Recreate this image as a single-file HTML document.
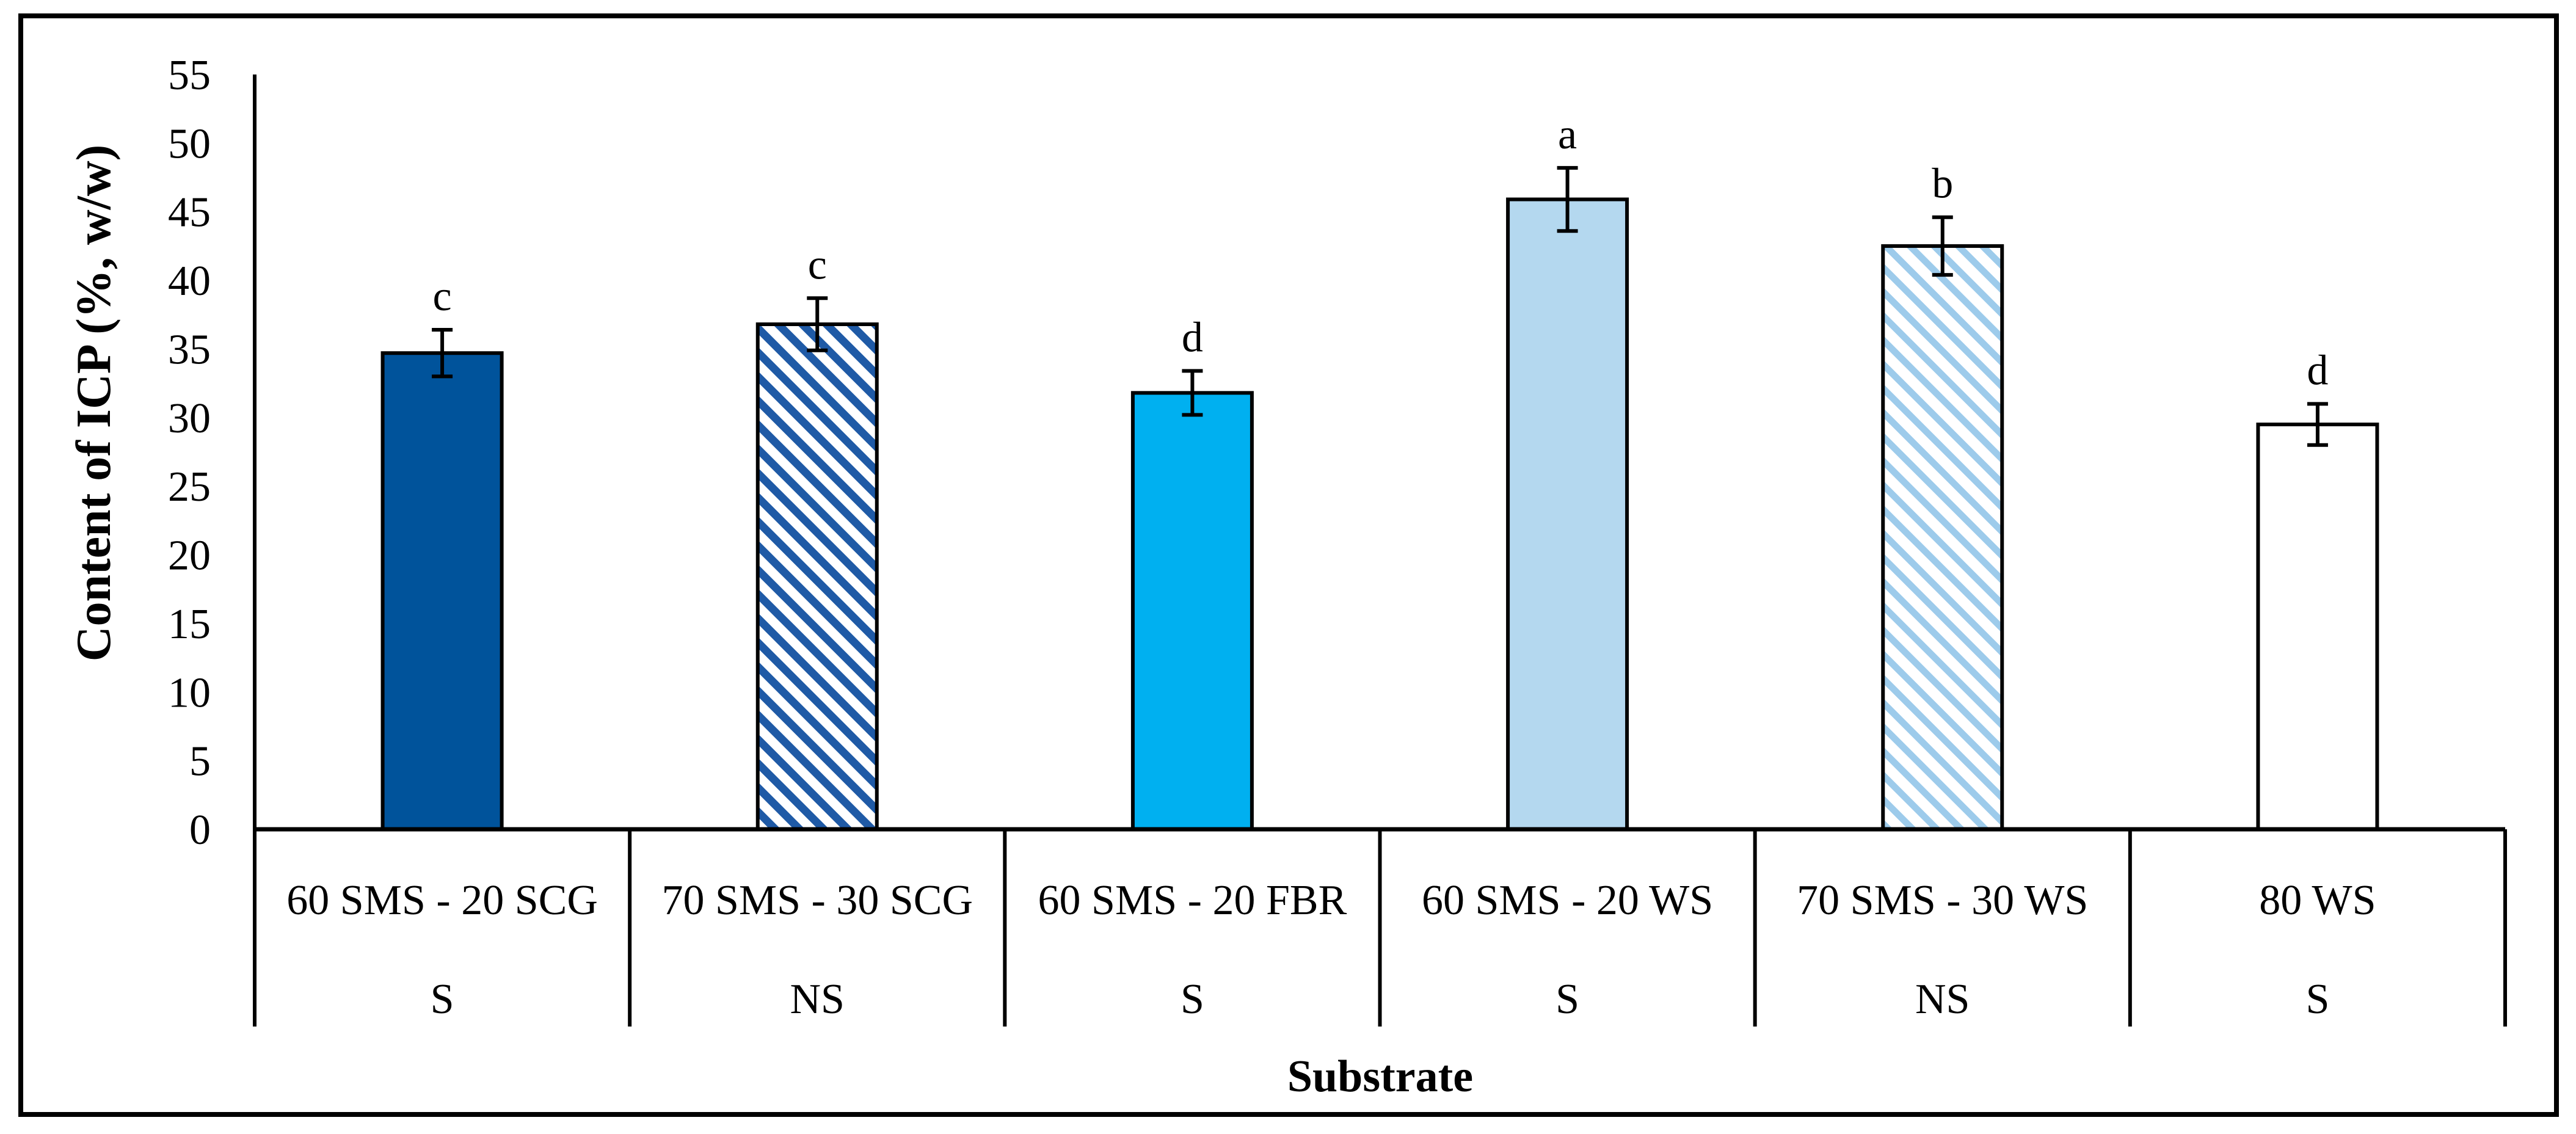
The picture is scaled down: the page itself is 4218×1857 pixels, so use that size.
<!DOCTYPE html>
<html><head><meta charset="utf-8"><style>
html,body{margin:0;padding:0;background:#fff;}
svg{display:block;font-family:"Liberation Serif",serif;}
</style></head><body>
<svg id="chart" width="4218" height="1857" viewBox="0 0 4218 1857" xmlns="http://www.w3.org/2000/svg">
<defs>
<pattern id="hatchDark" patternUnits="userSpaceOnUse" width="28" height="28" patternTransform="rotate(45)">
<rect width="28" height="28" fill="#fff"/><rect width="28" height="13" fill="#1f5aa6"/>
</pattern>
<pattern id="hatchLight" patternUnits="userSpaceOnUse" width="28" height="28" patternTransform="rotate(45)">
<rect width="28" height="28" fill="#fff"/><rect width="28" height="11" fill="#9dcbeb"/>
</pattern>
</defs>
<rect x="34" y="26" width="4152" height="1799" fill="none" stroke="#000" stroke-width="8"/>
<g id="plot"></g>
<text transform="translate(180,660) rotate(-90)" text-anchor="middle" font-size="80" font-weight="bold">Content of  ICP  (%, w/w)</text>
<text x="2260" y="1787" text-anchor="middle" font-size="74" font-weight="bold">Substrate</text>
</svg>
<script>
const categories = ["60 SMS - 20 SCG","70 SMS - 30 SCG","60 SMS - 20 FBR","60 SMS - 20 WS","70 SMS - 30 WS","80 WS"];
const groups = ["S","NS","S","S","NS","S"];
const values = [34.7, 36.8, 31.8, 45.9, 42.5, 29.5];
const errors = [1.7, 1.9, 1.6, 2.3, 2.1, 1.5];
const letters = ["c","c","d","a","b","d"];
const yTicks = [0,5,10,15,20,25,30,35,40,45,50,55];
const fills = ["#00539b","url(#hatchDark)","#00b0f0","#b4d8ef","url(#hatchLight)","#ffffff"];

const NS="http://www.w3.org/2000/svg";
const g=document.getElementById('plot');
const x0=417, x1=4102, y0=1358, yMax=55, yTop=122;
const catW=(x1-x0)/categories.length;
const barW=195;
function yScale(v){return y0-(v/yMax)*(y0-yTop);}
function xCenter(i){return x0+catW*(i+0.5);}
function mk(tag,attrs){const e=document.createElementNS(NS,tag);for(const k in attrs)e.setAttribute(k,attrs[k]);g.appendChild(e);return e;}

yTicks.forEach(t=>{
  const e=mk('text',{x:345,y:yScale(t)+24,'text-anchor':'end','font-size':70});
  e.textContent=t;
  
  
});
values.forEach((v,i)=>{
  const cx=xCenter(i);
  const r=mk('rect',{x:cx-barW/2,y:yScale(v),width:barW,height:y0-yScale(v),fill:fills[i],stroke:'#000','stroke-width':6});
  
  
  const eT=yScale(v+errors[i]), eB=yScale(v-errors[i]);
  const p=mk('path',{d:`M${cx},${eT}V${eB}M${cx-17},${eT}H${cx+17}M${cx-17},${eB}H${cx+17}`,stroke:'#000','stroke-width':6,fill:'none'});
  
  
  const l=mk('text',{x:cx,y:eT-32,'text-anchor':'middle','font-size':70});
  l.textContent=letters[i];
  
  
  const c=mk('text',{x:cx,y:1497,'text-anchor':'middle','font-size':70});
  c.textContent=categories[i];
  
  
  const s=mk('text',{x:cx,y:1659,'text-anchor':'middle','font-size':70});
  s.textContent=groups[i];
  
  
});
for(let i=0;i<=categories.length;i++){
  const x=x0+catW*i;
  const d=mk('line',{x1:x,x2:x,y1:(i===0?yTop:y0),y2:1681,stroke:'#000','stroke-width':6});
  
  
}
const ax=mk('line',{x1:x0,x2:x1,y1:y0,y2:y0,stroke:'#000','stroke-width':7});


</script>
</body></html>
